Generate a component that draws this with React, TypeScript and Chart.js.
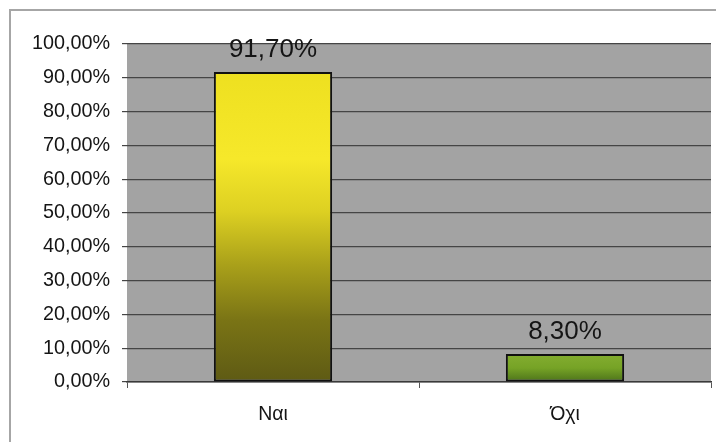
import React, { useEffect, useRef } from "react";
import { Chart, registerables } from "chart.js";

Chart.register(...registerables);

const categories: string[] = ["Ναι", "Όχι"];
const values: number[] = [91.7, 8.3];
const yTickMin = 0;
const yTickMax = 100;
const yTickStep = 10;

const fmtPct = (v: number) => v.toFixed(2).replace(".", ",") + "%";

const yellowStops: [number, string][] = [
  [0, "#eee020"],
  [0.28, "#f6e82a"],
  [0.45, "#ddd022"],
  [0.62, "#aaa11a"],
  [0.8, "#7a7415"],
  [1, "#5e5a14"],
];
const greenStops: [number, string][] = [
  [0, "#84ad30"],
  [0.5, "#76a326"],
  [1, "#4c721a"],
];
const barStops = [yellowStops, greenStops];

export default function App() {
  const ref = useRef<HTMLCanvasElement | null>(null);

  useEffect(() => {
    const canvas = ref.current;
    if (!canvas) return;

    const bgPlugin = {
      id: "bgPlugin",
      beforeDraw(chart: any) {
        const { ctx, chartArea } = chart;
        ctx.save();
        ctx.fillStyle = "#ffffff";
        ctx.fillRect(0, 0, chart.width, chart.height);
        ctx.strokeStyle = "#a6a6a6";
        ctx.lineWidth = 2;
        ctx.strokeRect(10, 10, chart.width + 20, chart.height + 20);
        if (chartArea) {
          ctx.fillStyle = "#a3a3a3";
          ctx.fillRect(
            chartArea.left,
            chartArea.top,
            chartArea.right - chartArea.left,
            chartArea.bottom - chartArea.top
          );
        }
        ctx.restore();
      },
    };

    const labelPlugin = {
      id: "labelPlugin",
      afterDatasetsDraw(chart: any) {
        const { ctx } = chart;
        const meta = chart.getDatasetMeta(0);
        ctx.save();
        ctx.fillStyle = "#151515";
        ctx.font = "26px 'Liberation Sans', Arial, sans-serif";
        ctx.textAlign = "center";
        ctx.textBaseline = "alphabetic";
        meta.data.forEach((el: any, i: number) => {
          ctx.fillText(fmtPct(values[i]), el.x, el.y - 15);
        });
        ctx.restore();
      },
    };

    const chart = new Chart(canvas, {
      type: "bar",
      data: {
        labels: categories,
        datasets: [
          {
            data: values,
            backgroundColor: (c: any) => {
              const ch = c.chart;
              const ys = ch.scales && ch.scales.y;
              if (!ch.chartArea || !ys) return "#cccccc";
              const v = values[c.dataIndex];
              const top = ys.getPixelForValue(v);
              const bottom = ys.getPixelForValue(0);
              const g = ch.ctx.createLinearGradient(0, top, 0, bottom);
              barStops[c.dataIndex].forEach(([o, col]) => g.addColorStop(o, col));
              return g;
            },
            borderColor: "#111111",
            borderWidth: 2,
            borderSkipped: false,
            barPercentage: 0.405,
            categoryPercentage: 1,
          },
        ],
      },
      options: {
        animation: false,
        responsive: false,
        maintainAspectRatio: false,
        layout: { padding: { top: 44, right: 5, left: 0, bottom: 0 } },
        plugins: {
          legend: { display: false },
          tooltip: { enabled: false },
        },
        scales: {
          x: {
            afterFit: (s: any) => {
              s.height = 60;
            },
            grid: {
              display: true,
              offset: true,
              drawOnChartArea: false,
              drawTicks: true,
              tickLength: 6,
              color: "#555555",
            },
            border: { display: true, color: "#3a3a3a", width: 1.5 },
            ticks: {
              color: "#151515",
              padding: 15,
              font: { family: "'Liberation Sans', Arial, sans-serif", size: 19.5 },
            },
          },
          y: {
            min: yTickMin,
            max: yTickMax,
            afterFit: (s: any) => {
              s.width = 127;
            },
            grid: {
              color: "#454545",
              lineWidth: 1.2,
              tickLength: 5,
              drawTicks: true,
            },
            border: { display: false },
            ticks: {
              stepSize: yTickStep,
              color: "#151515",
              padding: 12,
              font: { family: "'Liberation Sans', Arial, sans-serif", size: 19.8 },
              callback: (v: any) => fmtPct(Number(v)),
            },
          },
        },
      },
      plugins: [bgPlugin, labelPlugin],
    });

    return () => chart.destroy();
  }, []);

  return (
    <div style={{ position: "fixed", left: 0, top: 0, width: 716, height: 442, background: "#fff" }}>
      <canvas ref={ref} width={716} height={442} style={{ display: "block" }} />
    </div>
  );
}
